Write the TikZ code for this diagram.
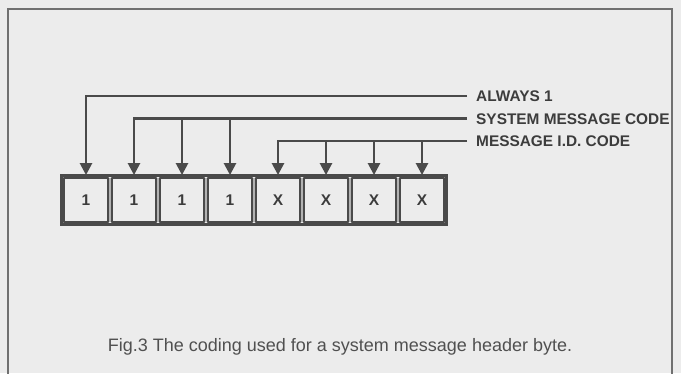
\documentclass[tikz,border=0pt]{standalone}
\usepackage{fontspec}
\setmainfont{Liberation Sans}
\usetikzlibrary{arrows.meta}
\definecolor{paper}{HTML}{ECECEC}
\definecolor{ink}{HTML}{4A4A4A}
\definecolor{txt}{HTML}{3C3C3C}
\definecolor{frame}{HTML}{707070}
\tikzset{
  cell/.style={draw=ink,line width=2.2bp,minimum width=44.5bp,minimum height=44.5bp,inner sep=0pt,
    rounded corners=1bp,font=\fontsize{15.5bp}{16bp}\selectfont\bfseries,text=txt},
  lab/.style={anchor=west,inner xsep=9bp,inner ysep=0pt,text height=11bp,text depth=0pt,
    font=\fontsize{15.4bp}{17bp}\selectfont\bfseries,text=txt},
  conn/.style={draw=ink,line width=2.6bp,-{Triangle[length=12bp,width=12bp]}},
  captext/.style={font=\fontsize{18bp}{20bp}\selectfont,text=txt!90,inner sep=0pt,anchor=base}
}
\begin{document}
\begin{tikzpicture}[x=1bp,y=-1bp]
\useasboundingbox (0,0) rectangle (681,373);
\fill[paper] (0,0) rectangle (681,373);
% frame
\draw[frame,line width=2.2bp] (8,380) -- (8,9) -- (672,9) -- (672,380);
% cells
\foreach \i/\t in {1/1,2/1,3/1,4/1,5/X,6/X,7/X,8/X}{
  \node[cell] (c\i) at ({62+24+48*(\i-1)},200) {\t};
}
\draw[ink,line width=3bp] ([xshift=-1.6bp,yshift=1.6bp]c1.north west) rectangle ([xshift=1.6bp,yshift=-1.6bp]c8.south east);
% labels
\node[lab] (l1) at (467,96) {ALWAYS 1};
\node[lab] (l2) at (467,118.5) {SYSTEM MESSAGE CODE};
\node[lab] (l3) at (467,141) {MESSAGE I.D. CODE};
% connectors
\draw[conn] (l1.west) -| ([yshift=1.6bp]c1.north);
\draw[conn] (l2.west) -| ([yshift=1.6bp]c2.north);
\draw[conn] (l2.west -| c3.north) -- ([yshift=1.6bp]c3.north);
\draw[conn] (l2.west -| c4.north) -- ([yshift=1.6bp]c4.north);
\draw[conn] (l3.west) -| ([yshift=1.6bp]c5.north);
\draw[conn] (l3.west -| c6.north) -- ([yshift=1.6bp]c6.north);
\draw[conn] (l3.west -| c7.north) -- ([yshift=1.6bp]c7.north);
\draw[conn] (l3.west -| c8.north) -- ([yshift=1.6bp]c8.north);
% caption
\node[captext] (caption) at (340,351) {Fig.3 The coding used for a system message header byte.};
\end{tikzpicture}
\end{document}
